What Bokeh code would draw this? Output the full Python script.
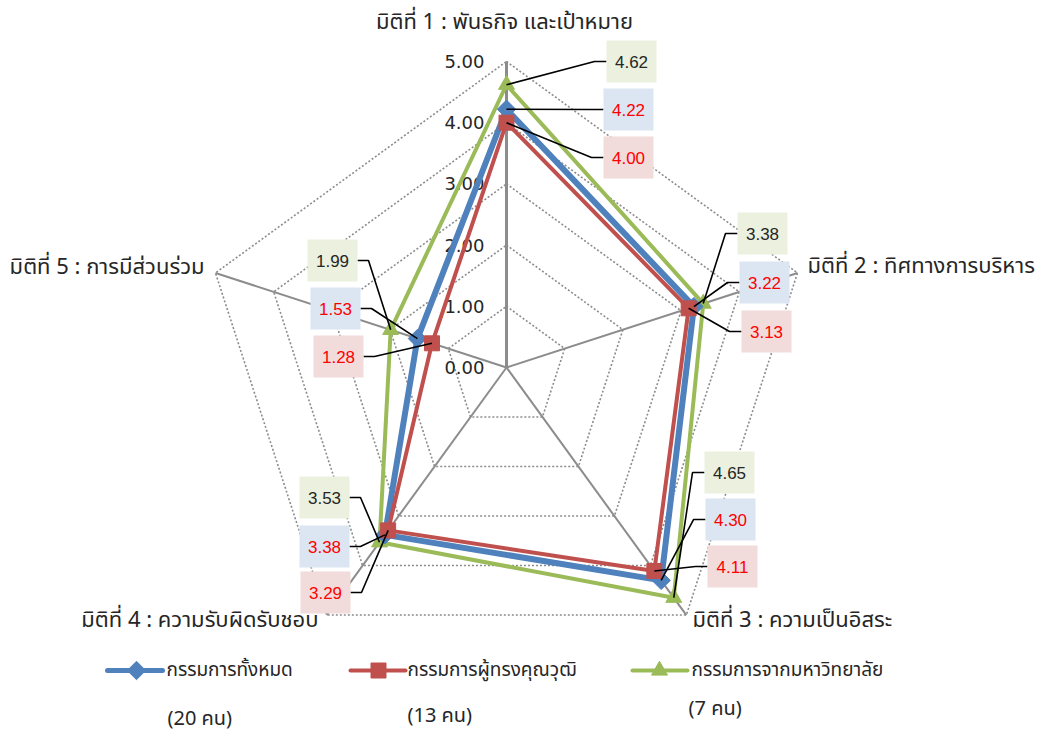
import math
from bokeh.plotting import figure
from bokeh.models import Range1d
from bokeh.core.properties import value
from bokeh.embed import file_html
from bokeh.resources import INLINE

# ---------------- data ----------------
axis_labels = ["มิติที่ 1 : พันธกิจ และเป้าหมาย",
               "มิติที่ 2 :  ทิศทางการบริหาร",
               "มิติที่ 3 : ความเป็นอิสระ",
               "มิติที่ 4 : ความรับผิดรับชอบ",
               "มิติที่ 5 : การมีส่วนร่วม"]
all_members = [4.22, 3.22, 4.30, 3.38, 1.53]
experts = [4.00, 3.13, 4.11, 3.29, 1.28]
university = [4.62, 3.38, 4.65, 3.53, 1.99]
series_names = ["กรรมการทั้งหมด", "กรรมการผู้ทรงคุณวุฒิ", "กรรมการจากมหาวิทยาลัย"]
series_counts = ["(20 คน)", "(13 คน)", "(7 คน)"]
levels = [0, 1, 2, 3, 4, 5]
tick_labels = ["0.00", "1.00", "2.00", "3.00", "4.00", "5.00"]

# ---------------- layout ----------------
W, H = 1044, 735
OFF = 0
S = 61.2            # pixels per unit
CX, CY = 506, 367   # centre in page pixels
THAI = "Noto Sans Thai, Noto Sans Thai UI, Noto Sans, DejaVu Sans, sans-serif"

def P(x, y):
    return ((x - CX) / S, (CY - y) / S)

def ang(k):
    return math.radians(90 - 72 * k)

def pol(v, k):
    return (v * math.cos(ang(k)), v * math.sin(ang(k)))

p = figure(width=W, height=H, output_backend="svg", toolbar_location=None,
           x_range=Range1d((OFF - CX) / S, (OFF + W - CX) / S),
           y_range=Range1d((CY - (OFF + H)) / S, (CY - OFF) / S),
           x_axis_location=None, y_axis_location=None, min_border=0)
p.grid.visible = False
p.outline_line_color = None
p.background_fill_color = "white"

GRID = "#8c8c8c"
# dotted pentagons
for lv in levels[1:]:
    xs = [pol(lv, k % 5)[0] for k in range(6)]
    ys = [pol(lv, k % 5)[1] for k in range(6)]
    p.line(xs, ys, line_color=GRID, line_width=1.6, line_dash="2 2")
# spokes
for k in range(5):
    x1, y1 = pol(levels[-1], k)
    p.line([0, x1], [0, y1], line_color=GRID, line_width=3 if k == 0 else 2)

# value tick labels
tx = [P(484, 0)[0]] * len(levels)
p.text(tx, [lv for lv in levels], text=tick_labels, text_align="right", text_baseline="middle",
       text_font=value("DejaVu Sans"), text_font_size="18px", text_color="#262626")

# series
BLUE, RED, GREEN = "#4F81BD", "#C0504D", "#9BBB59"
series = [
    (university, GREEN, 4, "triangle", 16, 0.0),
    (all_members, BLUE, 6, "square", 13, math.pi / 4),
    (experts, RED, 4, "square", 15, 0.0),
]
for vals, col, lw, mk, ms, a in series:
    pts = [pol(v, k) for k, v in enumerate(vals)]
    xs = [q[0] for q in pts] + [pts[0][0]]
    ys = [q[1] for q in pts] + [pts[0][1]]
    p.line(xs, ys, line_color=col, line_width=lw, line_join="round")
    p.scatter([q[0] for q in pts], [q[1] for q in pts], marker=mk, size=ms, angle=a,
              fill_color=col, line_color=col, line_width=1)

# data labels (green, blue, red boxes per axis) - box top-left corners in page px
box_pos = [
    [(606, 40), (603, 88), (603, 136)],
    [(737, 212), (739, 261), (741, 310)],
    [(704, 451), (705, 498), (707, 545)],
    [(299, 476), (299, 525), (300, 571)],
    [(307, 239), (310, 287), (313, 335)],
]
right_side = [True, True, True, False, False]
lab_series = [(university, "#EBF1DE", "#262626"),
              (all_members, "#DCE6F2", "#FF0000"),
              (experts, "#F2DCDB", "#FF0000")]
BW, BH = 50, 42
lx, ly, rx, ry, rc, tx2, ty2, tt, tc = [], [], [], [], [], [], [], [], []
for k in range(5):
    for j, (vals, bg, fg) in enumerate(lab_series):
        left, top = box_pos[k][j]
        cxb, cyb = left + BW / 2, top + BH / 2
        px, py = pol(vals[k], k)
        if right_side[k]:
            e1, e2 = P(left, cyb), P(left - 12, cyb)
        else:
            e1, e2 = P(left + BW, cyb), P(left + BW + 11, cyb)
        lx.append([e1[0], e2[0], px])
        ly.append([e1[1], e2[1], py])
        c = P(cxb, cyb)
        rx.append(c[0]); ry.append(c[1]); rc.append(bg)
        tx2.append(c[0]); ty2.append(c[1]); tt.append(f"{vals[k]:.2f}"); tc.append(fg)

p.multi_line(lx, ly, line_color="black", line_width=1.6)
p.rect(rx, ry, width=BW, height=BH, width_units="screen", height_units="screen",
       fill_color=rc, line_color=None)
p.text(tx2, ty2, text=tt, text_color=tc, text_align="center", text_baseline="middle",
       text_font=value("Liberation Sans"), text_font_size="17px")

# axis labels
ax_anchor = [((504, 22), "center"), ((807, 266), "left"), ((692, 620), "left"),
             ((318, 620), "right"), ((204, 267), "right")]
for k in range(5):
    (ax_, ay_), al = ax_anchor[k]
    q = P(ax_, ay_)
    p.text([q[0]], [q[1]], text=[axis_labels[k]], text_align=al, text_baseline="middle",
           text_font=value(THAI), text_font_size="22px", text_color="#262626")

# legend
leg = [((107, 162, 136), 166, (167, 718)),
       ((350, 405, 378), 407, (407, 715)),
       ((632, 687, 659), 691, (688, 708))]
leg_style = [(BLUE, 5, "square", 13, math.pi / 4),
             (RED, 4, "square", 15, 0.0),
             (GREEN, 4, "triangle", 16, 0.0)]
LY = 670
for i in range(3):
    (x0, x1, xm), xt, (xc, yc) = leg[i]
    col, lw, mk, ms, a = leg_style[i]
    a0, a1, am = P(x0, LY), P(x1, LY), P(xm, LY)
    p.line([a0[0], a1[0]], [a0[1], a1[1]], line_color=col, line_width=lw, line_cap="round")
    p.scatter([am[0]], [am[1]], marker=mk, size=ms, angle=a, fill_color=col, line_color=col)
    t = P(xt, LY)
    p.text([t[0]], [t[1]], text=[series_names[i]], text_align="left", text_baseline="middle",
           text_font=value(THAI), text_font_size="19px", text_color="#262626")
    c = P(xc, yc)
    p.text([c[0]], [c[1]], text=[series_counts[i]], text_align="left", text_baseline="middle",
           text_font=value(THAI), text_font_size="20px", text_color="#262626")

open("out.html", "w").write(file_html(p, INLINE))
